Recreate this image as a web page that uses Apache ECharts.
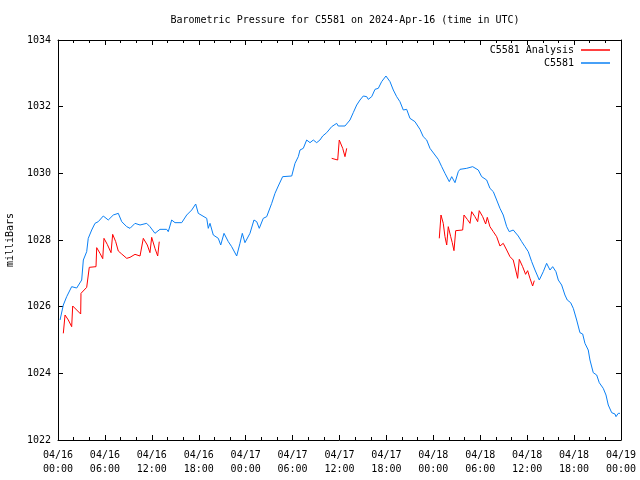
<!DOCTYPE html>
<html>
<head>
<meta charset="utf-8">
<script src="https://cdn.jsdelivr.net/npm/echarts@6/dist/echarts.min.js"></script>
<style>html,body{margin:0;padding:0;background:#fff}#c{width:640px;height:480px}</style>
</head>
<body>
<div id="c"></div>
<script>
// Hours since 2024-04-16 00:00 UTC
const obsHours = [0.26,0.68,1.11,1.75,2.39,3.03,3.24,3.67,3.87,4.31,4.73,5.15,5.79,6.43,7.07,7.71,8.15,8.79,9.21,9.85,10.49,11.34,11.76,12.40,13.04,13.90,14.10,14.54,14.96,15.82,16.46,17.10,17.61,17.94,18.16,19.02,19.22,19.44,19.86,20.50,20.81,21.23,21.78,22.21,22.42,22.85,23.27,23.57,23.91,24.55,25.06,25.41,25.74,26.25,26.69,26.89,27.33,27.75,28.17,28.73,29.89,30.31,30.73,30.95,31.37,31.80,32.23,32.65,33.08,33.50,33.85,34.36,35.00,35.64,35.84,36.70,37.34,37.76,38.20,38.62,39.04,39.48,39.68,40.12,40.54,40.96,41.39,41.94,42.46,42.88,43.31,43.73,44.16,44.59,45.01,45.65,46.29,46.71,47.15,47.57,48.21,48.63,49.07,49.49,50.04,50.35,50.77,51.19,51.41,52.26,53.03,53.75,54.18,54.82,55.24,55.67,56.10,56.52,56.94,57.38,57.71,58.22,58.86,59.30,59.72,60.14,60.58,61.00,61.55,62.06,62.49,62.92,63.26,63.68,63.98,64.41,64.83,65.13,65.56,65.90,66.33,66.75,67.10,67.39,67.81,68.03,68.45,68.89,69.22,69.73,70.08,70.37,70.81,71.23,71.36,71.65,71.87];
const obsValues = [1025.6,1026.05,1026.3,1026.6,1026.56,1026.8,1027.4,1027.65,1028.05,1028.3,1028.5,1028.55,1028.72,1028.6,1028.75,1028.8,1028.55,1028.4,1028.35,1028.5,1028.45,1028.5,1028.4,1028.2,1028.32,1028.32,1028.25,1028.6,1028.52,1028.52,1028.75,1028.9,1029.08,1028.8,1028.75,1028.65,1028.35,1028.5,1028.15,1028.05,1027.85,1028.2,1027.95,1027.8,1027.8,1027.52,1027.9,1028.2,1027.92,1028.2,1028.6,1028.55,1028.35,1028.65,1028.7,1028.65,1029.1,1029.4,1029.62,1029.9,1029.92,1030.3,1030.5,1030.7,1030.75,1031.0,1030.92,1031.0,1030.92,1031.0,1031.12,1031.22,1031.4,1031.5,1031.42,1031.42,1031.6,1031.82,1032.05,1032.2,1032.32,1032.3,1032.22,1032.3,1032.52,1032.55,1032.75,1032.92,1032.75,1032.5,1032.3,1032.15,1031.9,1031.92,1031.65,1031.55,1031.32,1031.1,1031.0,1030.75,1030.55,1030.42,1030.2,1030.0,1029.75,1029.9,1029.72,1030.05,1030.12,1030.15,1030.2,1030.1,1029.9,1029.8,1029.55,1029.45,1029.2,1028.95,1028.75,1028.4,1028.25,1028.3,1028.12,1027.95,1027.8,1027.65,1027.35,1027.1,1026.8,1027.05,1027.3,1027.1,1027.2,1027.05,1026.8,1026.65,1026.35,1026.2,1026.12,1025.95,1025.6,1025.22,1025.18,1024.9,1024.7,1024.4,1024.02,1023.95,1023.72,1023.55,1023.35,1023.05,1022.82,1022.78,1022.7,1022.8,1022.8];

const anaHours = [0.68,0.90,1.32,1.75,1.88,2.39,2.90,2.94,3.67,4.00,4.86,4.95,5.37,5.72,5.88,6.30,6.78,6.99,7.38,7.71,8.15,8.79,9.21,9.85,10.49,10.74,10.91,11.42,11.76,11.98,12.40,12.75,12.95,
  24.0,
  35.00,35.77,35.97,36.41,36.70,36.92,
  42.0,
  48.76,48.98,49.27,49.49,49.71,49.91,50.22,50.42,50.64,50.86,51.75,51.92,52.34,52.69,52.90,53.32,53.67,53.87,54.31,54.69,54.90,55.24,55.67,56.10,56.52,56.94,57.38,57.80,58.22,58.53,58.78,58.99,59.42,59.80,60.06,60.36,60.70,60.91];
const anaValues = [1025.2,1025.75,1025.6,1025.4,1026.02,1025.9,1025.78,1026.4,1026.58,1027.18,1027.2,1027.77,1027.6,1027.44,1028.05,1027.87,1027.62,1028.17,1027.95,1027.67,1027.58,1027.45,1027.48,1027.57,1027.52,1027.48,1028.05,1027.85,1027.62,1028.08,1027.75,1027.52,1027.95,
  null,
  1030.45,1030.4,1031.0,1030.75,1030.5,1030.75,
  null,
  1028.05,1028.75,1028.5,1028.1,1027.85,1028.4,1028.1,1027.92,1027.68,1028.28,1028.3,1028.75,1028.62,1028.5,1028.85,1028.7,1028.55,1028.88,1028.7,1028.48,1028.68,1028.4,1028.25,1028.1,1027.82,1027.9,1027.7,1027.5,1027.4,1027.1,1026.85,1027.42,1027.2,1026.97,1027.08,1026.85,1026.62,1026.78];

const titleText = 'Barometric Pressure for C5581 on 2024-Apr-16 (time in UTC)';
const yName = 'milliBars';
const nameAnalysis = 'C5581 Analysis';
const nameObs = 'C5581';

function fmtX(h) {
  const day = 16 + Math.floor(h / 24);
  const hr = Math.round(h % 24);
  return '04/' + day + '\n' + (hr < 10 ? '0' : '') + hr + ':00';
}

const FONT = 'DejaVu Sans Mono';
const chart = echarts.init(document.getElementById('c'), null, {renderer: 'canvas'});
const axisLine = {show: true, onZero: false, lineStyle: {color: '#000', width: 1}};
const xCommon = {
  type: 'value', min: 0, max: 72, interval: 6,
  axisLine: axisLine,
  axisTick: {show: true, inside: true, length: 5, lineStyle: {color: '#000'}},
  minorTick: {show: true, splitNumber: 3, length: 3, lineStyle: {color: '#000'}},
  splitLine: {show: false}, minorSplitLine: {show: false}
};
const yCommon = {
  type: 'value', min: 1022, max: 1034, interval: 2,
  axisLine: axisLine,
  axisTick: {show: true, inside: true, length: 5, lineStyle: {color: '#000'}},
  splitLine: {show: false}
};
chart.setOption({
  animation: false,
  backgroundColor: '#fff',
  textStyle: {fontFamily: FONT},
  title: {
    text: titleText, left: 340, top: 10, textAlign: 'center',
    textStyle: {fontFamily: FONT, fontSize: 10, fontWeight: 'normal', color: '#000'}
  },
  grid: {left: 58, top: 40, right: 19, bottom: 40, containLabel: false, outerBoundsMode: 'none'},
  legend: [
    {data: [nameAnalysis], right: 30, top: 45, align: 'right', orient: 'vertical',
     icon: 'rect', itemWidth: 29, itemHeight: 1.5, itemGap: 4, padding: 0,
     textStyle: {fontFamily: FONT, fontSize: 10, color: '#000', padding: [0, 2, 0, 0]}},
    {data: [nameObs], right: 30, top: 58, align: 'right', orient: 'vertical',
     icon: 'rect', itemWidth: 29, itemHeight: 1.5, itemGap: 4, padding: 0,
     textStyle: {fontFamily: FONT, fontSize: 10, color: '#000', padding: [0, 2, 0, 0]}}
  ],
  xAxis: [
    Object.assign({}, xCommon, {position: 'bottom',
      axisLabel: {show: true, margin: 8, fontFamily: FONT, fontSize: 10, color: '#000', lineHeight: 14,
        formatter: fmtX, showMinLabel: true, showMaxLabel: true, hideOverlap: false}}),
    Object.assign({}, xCommon, {position: 'top', axisLabel: {show: false}})
  ],
  yAxis: [
    Object.assign({}, yCommon, {position: 'left',
      name: yName, nameLocation: 'middle', nameGap: 43, nameRotate: 90,
      nameTextStyle: {fontFamily: FONT, fontSize: 10, color: '#000'},
      axisLabel: {show: true, margin: 7, fontFamily: FONT, fontSize: 10, color: '#000',
        formatter: v => String(v)}}),
    Object.assign({}, yCommon, {position: 'right', axisLabel: {show: false}})
  ],
  series: [
    {name: nameAnalysis, type: 'line', xAxisIndex: 0, yAxisIndex: 0, showSymbol: false, symbol: 'none',
     connectNulls: false, lineStyle: {color: '#ff0000', width: 1}, itemStyle: {color: '#ff0000'},
     data: anaHours.map((h, i) => [h, anaValues[i]]), z: 3},
    {name: nameObs, type: 'line', xAxisIndex: 0, yAxisIndex: 0, showSymbol: false, symbol: 'none',
     lineStyle: {color: '#0a80f5', width: 1}, itemStyle: {color: '#0a80f5'},
     data: obsHours.map((h, i) => [h, obsValues[i]]), z: 2}
  ]
});
</script>
</body>
</html>
